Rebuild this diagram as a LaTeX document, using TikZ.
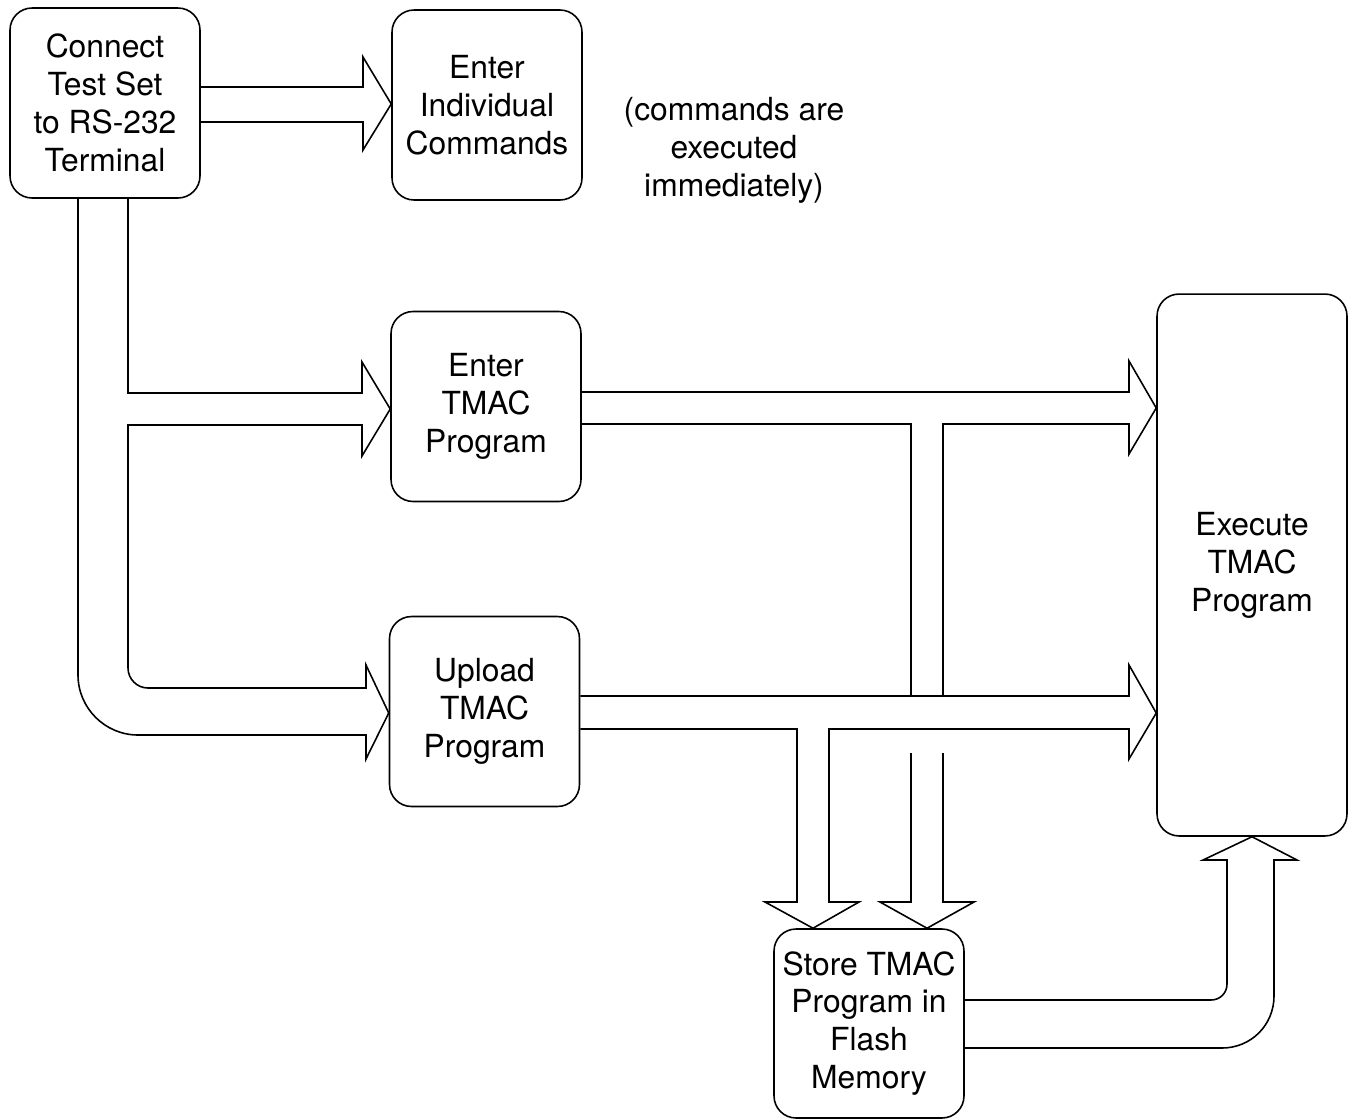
\documentclass[tikz,border=0pt]{standalone}
\usepackage{fontspec}
\setmainfont{TeX Gyre Heros}
\begin{document}
\begin{tikzpicture}[x=0.02cm,y=-0.02cm,
  line width=0.9pt, line join=miter,
  box/.style={draw, rounded corners=0.44cm, minimum width=3.8cm, minimum height=3.8cm,
    inner sep=0pt, align=center, font=\fontsize{18.1pt}{21.6pt}\selectfont},
  note/.style={align=center, inner sep=0pt, font=\fontsize{18.1pt}{21.6pt}\selectfont},
  flow/.style={draw, line width=0.9pt}]
\useasboundingbox (0,0) rectangle (1354,1119);

% process boxes
\node[box] (conn)   at (105,103)  {Connect\\Test Set\\to RS-232\\Terminal};
\node[box] (indiv)  at (487,105)  {Enter\\Individual\\Commands};
\node[box] (enter)  at (486,406.5) {Enter\\TMAC\\Program};
\node[box] (upload) at (484.5,711.5) {Upload\\TMAC\\Program};
\node[box, minimum height=10.84cm] (exec) at (1252,565) {Execute\\TMAC\\Program};
\node[box, minimum height=3.78cm] (store) at (869,1023.5) {Store TMAC\\Program in\\Flash\\Memory};
\node[note] (remark) at (734,150) {(commands are\\executed\\immediately)};

% Connect -> Enter Individual Commands
\draw[flow] (conn.east |- 0,87) -- (363,87) -- (363,57) -- (indiv.west |- 0,104)
  -- (363,150) -- (363,122) -- (conn.east |- 0,122);

% Connect -> Enter TMAC Program and Upload TMAC Program
\draw[flow] (128,0 |- conn.south) -- (128,393) -- (362,393) -- (362,362)
  -- (enter.west |- 0,409) -- (362,456) -- (362,425) -- (128,425) -- (128,668)
  .. controls (128,679) and (137,688) .. (148,688) -- (366,688) -- (366,665)
  -- (upload.west |- 0,713) -- (366,759) -- (366,735) -- (138,735)
  .. controls (105,735) and (78,708) .. (78,675) -- (78,0 |- conn.south);

% Enter TMAC Program -> Execute TMAC Program, with a branch down to Store
\draw[flow] (enter.east |- 0,392) -- (1129,392) -- (1129,361) -- (exec.west |- 0,408)
  -- (1129,454) -- (1129,424) -- (943,424) -- (943,696);
\draw[flow] (enter.east |- 0,424) -- (911,424) -- (911,696);
\draw[flow] (911,753) -- (911,902) -- (880,902) -- (927,0 |- store.north)
  -- (974,902) -- (943,902) -- (943,753);

% Upload TMAC Program -> Execute TMAC Program, with a branch down to Store
\draw[flow] (upload.east |- 0,696) -- (1129,696) -- (1129,665) -- (exec.west |- 0,713)
  -- (1129,759) -- (1129,729) -- (829,729) -- (829,902) -- (859,902)
  -- (813,0 |- store.north) -- (765,902) -- (797,902) -- (797,729)
  -- (upload.east |- 0,729);

% Store -> Execute TMAC Program
\draw[flow] (store.east |- 0,1000) -- (1211,1000)
  .. controls (1220,1000) and (1227,993) .. (1227,984) -- (1227,860) -- (1203,860)
  -- (exec.south) -- (1297,860) -- (1274,860) -- (1274,996)
  .. controls (1274,1025) and (1251,1048) .. (1222,1048) -- (store.east |- 0,1048);
\end{tikzpicture}
\end{document}
